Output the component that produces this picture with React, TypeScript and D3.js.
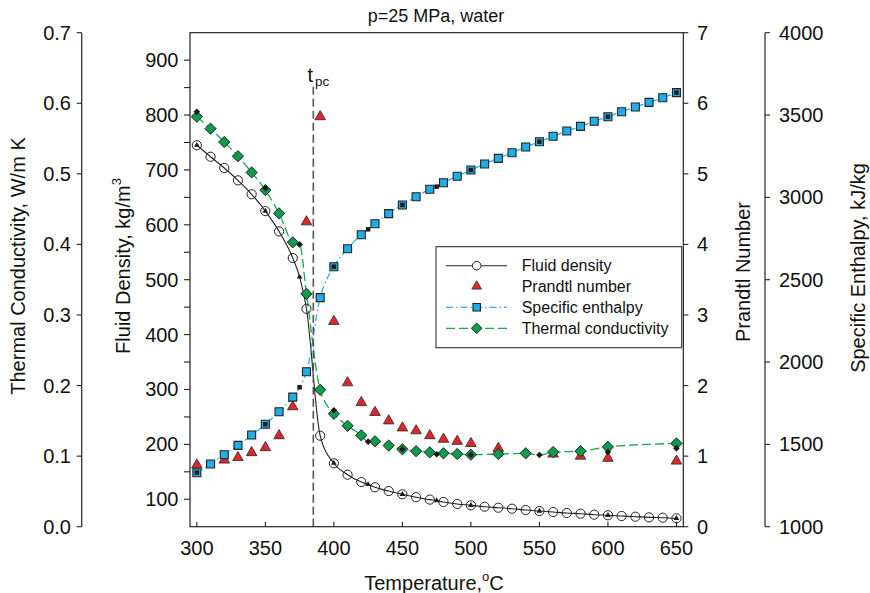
import React from "react";
import * as d3 from "d3";

// ---------- data ----------
const densityT = [300,310,320,330,340,350,360,370,380,390,400,410,420,430,440,450,460,470,480,490,500,510,520,530,540,550,560,570,580,590,600,610,620,630,640,650];
const densityV = [745,724,703.5,681,655.6,625,588,539.5,447,215.8,165.5,144.7,131.4,121.8,115,109,103.8,99.3,95,91.4,89,86.4,84.6,82.8,80.4,78.6,76.8,75,73.7,71.9,70.8,69.5,68.2,67,66.4,65.3];

const prandtlT = [300,320,330,340,350,360,370,380,390,400,410,420,430,440,450,460,470,480,490,500,520,560,580,600,650];
const prandtlV = [0.874,0.945,0.98,1.05,1.12,1.29,1.70,4.32,5.81,2.91,2.04,1.76,1.62,1.50,1.40,1.36,1.29,1.24,1.21,1.18,1.11,1.03,1.00,0.97,0.93];

const enthalpyT = densityT;
const enthalpyV = [1328,1381,1437,1494,1557,1622,1698,1787,1941,2391,2579,2688,2773,2840,2901,2954,3004,3049,3089,3128,3166,3203,3237,3271,3306,3338,3371,3403,3431,3462,3490,3520,3549,3577,3605,3636];

const condT = [300,310,320,330,340,350,360,370,380,390,400,410,420,430,440,450,460,470,480,490,500,520,540,560,580,600,650];
const condV = [0.581,0.564,0.545,0.525,0.502,0.477,0.444,0.403,0.330,0.194,0.160,0.143,0.1295,0.121,0.115,0.1097,0.107,0.1054,0.104,0.103,0.102,0.103,0.104,0.1058,0.107,0.113,0.118];

// small black reference points
const refT = [300,350,375,400,425,450,475,500,550,600,650];
const refDensity = [745,625,505,166,127,109,97.5,89,78.6,70.8,65.3];
const refEnthalpy = [1328,1622,1847,2579,2806,2954,3065,3166,3338,3490,3636];
const refCond = [0.588,0.4795,0.400,0.165,0.1205,0.1097,0.1026,0.1016,0.1016,0.106,0.111];

const xTicks = [300,350,400,450,500,550,600,650];
const densityTicks = [100,200,300,400,500,600,700,800,900];
const densityMinor = [100,150,200,250,300,350,400,450,500,550,600,650,700,750,800,850,900];
const condTicks = [0,0.1,0.2,0.3,0.4,0.5,0.6,0.7];
const prTicks = [0,1,2,3,4,5,6,7];
const hTicks = [1000,1500,2000,2500,3000,3500,4000];
const tpc = 385;

const legendItems = ["Fluid density","Prandtl number","Specific enthalpy","Thermal conductivity"];

// ---------- layout ----------
const L = 190, R = 683.3, T = 32.7, B = 526.7;
const FONT = "'Liberation Sans', Arial, Helvetica, sans-serif";
const BLUE = "#1FAEE8", GREEN = "#0C9C4B", RED = "#E2242B";
const BLUE_LINE = "#2BB3E6", GREEN_LINE = "#13AA50";

const x = d3.scaleLinear().domain([295, 655]).range([L, R]);
const yD = d3.scaleLinear().domain([50, 950]).range([B, T]);
const yPr = d3.scaleLinear().domain([0, 7]).range([B, T]);
const yK = d3.scaleLinear().domain([0, 0.7]).range([B, T]);
const yH = d3.scaleLinear().domain([1000, 4000]).range([B, T]);

function merge(t1: number[], v1: number[], t2: number[], v2: number[]) {
  const m = new Map<number, number>();
  t1.forEach((t, i) => m.set(t, v1[i]));
  t2.forEach((t, i) => { if (!m.has(t)) m.set(t, v2[i]); });
  return Array.from(m.entries()).sort((a, b) => a[0] - b[0]);
}

const tri = (s: number) => d3.symbol().type(d3.symbolTriangle).size(s)()!;
const sq = (s: number) => d3.symbol().type(d3.symbolSquare).size(s)()!;
const dia = (h: number) => `M0,${-h}L${h},0L0,${h}L${-h},0Z`;

export default function App() {
  const lineD = d3.line<[number, number]>().x(d => x(d[0])).y(d => yD(d[1])).curve(d3.curveMonotoneX);
  const lineH = d3.line<[number, number]>().x(d => x(d[0])).y(d => yH(d[1])).curve(d3.curveMonotoneX);
  const lineK = d3.line<[number, number]>().x(d => x(d[0])).y(d => yK(d[1])).curve(d3.curveMonotoneX);

  const dPts = merge(densityT, densityV, refT, refDensity);
  const hPts = merge(enthalpyT, enthalpyV, refT, refEnthalpy);
  const kPts = merge(condT, condV, refT, refCond);

  const KX = 81.7, HX = 765;
  const lgX = 436, lgY = 246.7, lgW = 245.7, lgH = 101;
  const rows = [265.7, 286.3, 307.3, 328.3];

  return (
    <svg width={870} height={593} style={{ position: "absolute", left: 0, top: 0, background: "#fff" }} fontFamily={FONT}>
      {/* title */}
      <text x={436} y={22} fontSize={18} textAnchor="middle" fill="#111">p=25 MPa, water</text>

      {/* lines */}
      <path d={lineD(dPts as any)!} fill="none" stroke="#222" strokeWidth={1.1} />
      <path d={lineH(hPts as any)!} fill="none" stroke={BLUE_LINE} strokeWidth={1.3} strokeDasharray="7,3,1.5,3" />
      <path d={lineK(kPts as any)!} fill="none" stroke={GREEN_LINE} strokeWidth={1.3} strokeDasharray="9,4" />

      {/* tpc line */}
      <line x1={x(tpc)} x2={x(tpc)} y1={86.7} y2={B} stroke="#555" strokeWidth={1.6} strokeDasharray="8,4" />
      <text x={307.5} y={81.7} fontSize={20} fill="#111">t</text>
      <text x={315} y={86} fontSize={13.5} fill="#111">pc</text>

      {/* density markers */}
      {densityT.map((t, i) => (
        <circle key={"d" + i} cx={x(t)} cy={yD(densityV[i])} r={4.6} fill="none" stroke="#222" strokeWidth={1} />
      ))}
      {/* prandtl */}
      {prandtlT.map((t, i) => (
        <path key={"p" + i} d={tri(48)} transform={`translate(${x(t)},${yPr(prandtlV[i])})`} fill={RED} stroke="#333" strokeWidth={0.9} />
      ))}
      {/* enthalpy */}
      {enthalpyT.map((t, i) => (
        <path key={"h" + i} d={sq(64)} transform={`translate(${x(t)},${yH(enthalpyV[i])})`} fill={BLUE} stroke="#222" strokeWidth={1.1} />
      ))}
      {/* conductivity */}
      {condT.map((t, i) => (
        <path key={"k" + i} d={dia(5.6)} transform={`translate(${x(t)},${yK(condV[i])})`} fill={GREEN} stroke="#222" strokeWidth={1} />
      ))}

      {/* reference small black markers */}
      {refT.map((t, i) => (
        <g key={"r" + i} fill="#1a1a1a">
          <path d={tri(14)} transform={`translate(${x(t)},${yD(refDensity[i])})`} />
          <path d={sq(20)} transform={`translate(${x(t)},${yH(refEnthalpy[i])})`} />
          <path d={dia(3.3)} transform={`translate(${x(t)},${yK(refCond[i])})`} />
        </g>
      ))}

      {/* frame */}
      <rect x={L} y={T} width={R - L} height={B - T} fill="none" stroke="#222" strokeWidth={1.2} />

      {/* x axis */}
      {xTicks.map(t => (
        <g key={"xt" + t}>
          <line x1={x(t)} x2={x(t)} y1={B} y2={B - 5} stroke="#222" strokeWidth={1.1} />
          <text x={x(t)} y={555} fontSize={20} textAnchor="middle" fill="#111">{t}</text>
        </g>
      ))}
      <text x={434} y={590} fontSize={20} textAnchor="middle" fill="#111">
        Temperature,<tspan fontSize={13} dy={-9}>o</tspan><tspan dy={9}>C</tspan>
      </text>

      {/* density axis */}
      {densityMinor.map(v => (
        <line key={"dm" + v} x1={L - 6} x2={L} y1={yD(v)} y2={yD(v)} stroke="#222" strokeWidth={1.1} />
      ))}
      {densityTicks.map(v => (
        <text key={"dt" + v} x={178.5} y={yD(v)} dy="0.35em" fontSize={20} textAnchor="end" fill="#111">{v}</text>
      ))}
      <text transform={`translate(130,266) rotate(-90)`} fontSize={20} textAnchor="middle" fill="#111">
        Fluid Density, kg/m<tspan fontSize={13} dy={-9}>3</tspan>
      </text>

      {/* conductivity axis */}
      <line x1={KX} x2={KX} y1={T} y2={B} stroke="#222" strokeWidth={1.2} />
      {condTicks.map(v => (
        <g key={"kt" + v}>
          <line x1={KX - 5} x2={KX} y1={yK(v)} y2={yK(v)} stroke="#222" strokeWidth={1.1} />
          <text x={71} y={yK(v)} dy="0.35em" fontSize={20} textAnchor="end" fill="#111">{d3.format(".1f")(v)}</text>
        </g>
      ))}
      <text transform={`translate(25,266) rotate(-90)`} fontSize={20} textAnchor="middle" fill="#111">Thermal Conductivity, W/m K</text>

      {/* prandtl axis */}
      {prTicks.map(v => (
        <g key={"pt" + v}>
          <line x1={R} x2={R + 5} y1={yPr(v)} y2={yPr(v)} stroke="#222" strokeWidth={1.1} />
          <text x={697} y={yPr(v)} dy="0.35em" fontSize={20} textAnchor="start" fill="#111">{v}</text>
        </g>
      ))}
      <text transform={`translate(750,272) rotate(-90)`} fontSize={20} textAnchor="middle" fill="#111">Prandtl Number</text>

      {/* enthalpy axis */}
      <line x1={HX} x2={HX} y1={T} y2={B} stroke="#222" strokeWidth={1.2} />
      {hTicks.map(v => (
        <g key={"ht" + v}>
          <line x1={HX} x2={HX + 5} y1={yH(v)} y2={yH(v)} stroke="#222" strokeWidth={1.1} />
          <text x={779} y={yH(v)} dy="0.35em" fontSize={20} textAnchor="start" fill="#111">{v}</text>
        </g>
      ))}
      <text transform={`translate(865,268) rotate(-90)`} fontSize={20} textAnchor="middle" fill="#111">Specific Enthalpy, kJ/kg</text>

      {/* legend */}
      <rect x={lgX} y={lgY} width={lgW} height={lgH} fill="#fff" stroke="#333" strokeWidth={1.1} />
      <line x1={446} x2={507} y1={rows[0]} y2={rows[0]} stroke="#222" strokeWidth={1.1} />
      <circle cx={476.7} cy={rows[0]} r={4.3} fill="#fff" stroke="#222" strokeWidth={1} />
      <path d={tri(40)} transform={`translate(476.7,${rows[1]})`} fill={RED} stroke="#333" strokeWidth={0.9} />
      <line x1={446} x2={507} y1={rows[2]} y2={rows[2]} stroke={BLUE_LINE} strokeWidth={1.3} strokeDasharray="7,3,1.5,3" />
      <path d={sq(56)} transform={`translate(476.7,${rows[2]})`} fill={BLUE} stroke="#222" strokeWidth={1.1} />
      <line x1={446} x2={507} y1={rows[3]} y2={rows[3]} stroke={GREEN_LINE} strokeWidth={1.3} strokeDasharray="9,4" />
      <path d={dia(5.3)} transform={`translate(476.7,${rows[3]})`} fill={GREEN} stroke="#222" strokeWidth={1} />
      {legendItems.map((s, i) => (
        <text key={s} x={521.7} y={rows[i]} dy="0.35em" fontSize={16} fill="#111">{s}</text>
      ))}
    </svg>
  );
}
